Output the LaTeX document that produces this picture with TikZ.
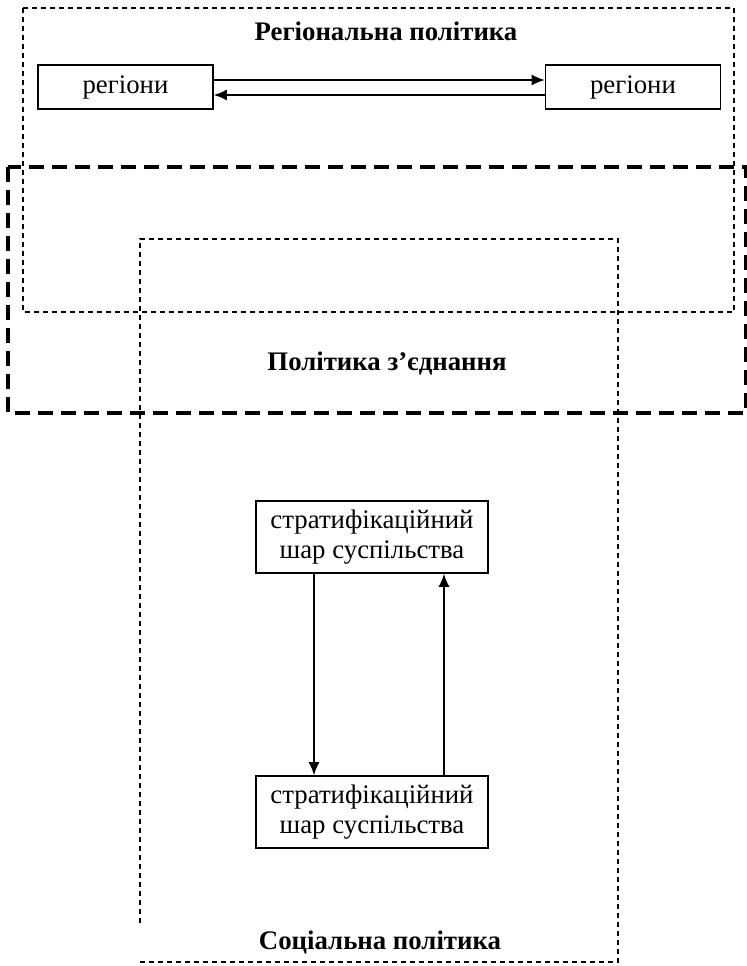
\documentclass[tikz,border=0pt]{standalone}
\usepackage{fontspec}
\setmainfont{Liberation Serif}
\usetikzlibrary{arrows.meta}
\begin{document}
\begin{tikzpicture}[x=0.5pt,y=-0.5pt,
  thinframe/.style={line width=0.7pt,dash pattern=on 2.5pt off 2pt},
  thickframe/.style={line width=1.8pt,dash pattern=on 7.5pt off 4pt},
  unit/.style={draw,line width=0.8pt,minimum width=87.5pt,minimum height=22pt,inner sep=0pt,font=\fontsize{13.4}{16}\selectfont},
  layer/.style={draw,line width=0.8pt,minimum width=116pt,minimum height=36pt,inner sep=0pt,align=center,font=\fontsize{13.4}{15}\selectfont},
  title/.style={font=\fontsize{13.4}{16}\selectfont\bfseries},
  link/.style={line width=0.75pt,-{Latex[length=6.5pt,width=5.5pt]}}]
 \useasboundingbox (0,0) rectangle (747,966);
 % frames
 \draw[thinframe] (23,8) rectangle (734,312);
 \draw[thickframe] (8,167) rectangle (746,413);
 \draw[thinframe] (140,923) -- (140,239) -- (618,239) -- (618,962) -- (140,962);
 % titles
 \node[title] (regpol) at (386,31) {Регіональна політика};
 \node[title] (joinpol) at (387,364) {Політика з’єднання};
 \node[title] (socpol) at (380,943) {Соціальна політика};
 % regions
 \node[unit] (regA) at (125.5,87) {регіони};
 \node[unit] (regB) at (633,87) {регіони};
 \draw[link] ([yshift=3.5pt]regA.east) -- ([yshift=3.5pt]regB.west);
 \draw[link] ([yshift=-4pt]regB.west) -- ([yshift=-4pt]regA.east);
 % layers
 \node[layer] (layA) at (372,537) {стратифікаційний\\шар суспільства};
 \node[layer] (layB) at (372,812) {стратифікаційний\\шар суспільства};
 \draw[link] ([xshift=-29pt]layA.south) -- ([xshift=-29pt]layB.north);
 \draw[link] ([xshift=36pt]layB.north) -- ([xshift=36pt]layA.south);
\end{tikzpicture}
\end{document}
